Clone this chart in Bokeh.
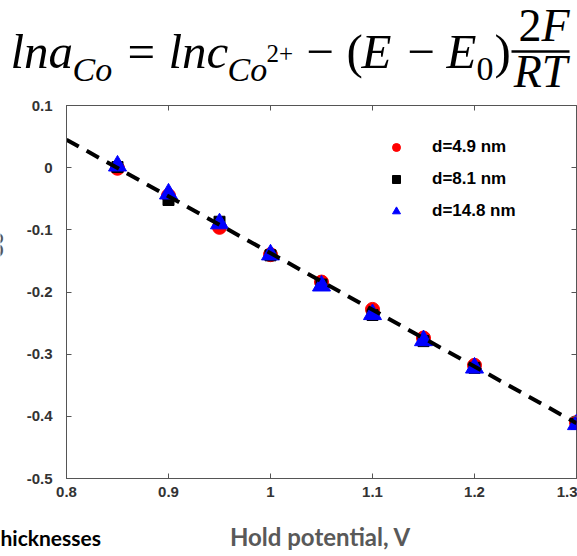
import math

from bokeh.core.properties import value
from bokeh.embed import file_html
from bokeh.layouts import column, row
from bokeh.models import (CustomJSTickFormatter, FixedTicker, Legend, LegendItem,
                          LinearAxis, Range1d)
from bokeh.plotting import figure
from bokeh.resources import INLINE

# Hold potential (V) and ln(a_Co) for the three film thicknesses
potential = [0.85, 0.90, 0.95, 1.00, 1.05, 1.10, 1.15, 1.20, 1.30]
ln_a_d49 = [-0.001, -0.045, -0.096, -0.140, -0.184, -0.228, -0.274, -0.318, -0.410]
ln_a_d81 = [0.001, -0.052, -0.087, -0.141, -0.188, -0.237, -0.279, -0.322, -0.412]
ln_a_d148 = [0.003, -0.042, -0.090, -0.140, -0.190, -0.236, -0.278, -0.322, -0.413]
series_labels = ["d=4.9 nm", "d=8.1 nm", "d=14.8 nm"]

# Nernst-type straight line through the data
fit_potential = [0.80, 1.30]
fit_ln_a = [0.045, -0.411]

x_ticks = [0.8, 0.9, 1.0, 1.1, 1.2, 1.3]
y_ticks = [-0.5, -0.4, -0.3, -0.2, -0.1, 0.0, 0.1]

W = 577
TOP_H, MAIN_H, BOTTOM_H = 97, 413, 46
MAIN_TOP_BORDER = 8
STRIP_W = 8

AXIS_COLOR = "#555555"
TICK_FONT = "Liberation Sans"

# (ascent - descent) / 2 of each face, used to turn a baseline into a middle line
MID_SHIFT = {"Liberation Serif": 0.3375, "Lato": 0.387}


def blank(width, height, flip_y=True):
    """A bare canvas whose data units are pixels (origin top-left when flipped)."""
    f = figure(width=width, height=height, output_backend="svg", toolbar_location=None,
               x_range=Range1d(0, width),
               y_range=Range1d(height, 0) if flip_y else Range1d(0, height),
               x_axis_location=None, y_axis_location=None, min_border=0)
    f.grid.visible = False
    f.outline_line_color = None
    f.background_fill_color = "white"
    f.border_fill_color = "white"
    return f


def run(f, text, x, baseline, size, style="italic", font="Liberation Serif",
        color="black", align="left"):
    """Draw a text run whose alphabetic baseline sits at pixel row `baseline`."""
    f.text(x=[x], y=[baseline - MID_SHIFT[font] * size], text=[text],
           text_font=value(font), text_font_size=value(f"{size}px"),
           text_font_style=style, text_color=color, text_align=align,
           text_baseline="middle")


# ---- equation: ln a_Co = ln c_Co2+ - (E - E0) 2F/RT
top = blank(W, TOP_H)
S, FRAC, SUB, SUP = 49, 46, 34, 25
BASE, SUB_BASE, SUP_BASE = 68, 80, 61
run(top, "lna", 10, BASE, S)
run(top, "Co", 72, SUB_BASE, SUB)
run(top, "=", 127, BASE, S, style="normal")
run(top, "lnc", 168, BASE, S)
run(top, "Co", 227, SUB_BASE, SUB)
run(top, "2+", 266, SUP_BASE, SUP, style="normal")
run(top, "\u2212", 306, BASE, S, style="normal")
run(top, "(", 346, BASE, S, style="normal")
run(top, "E", 361, BASE, S)
run(top, "\u2212", 407, BASE, S, style="normal")
run(top, "E", 446, BASE, S)
run(top, "0", 476, SUB_BASE, SUB, style="normal")
run(top, ")", 494, BASE, S, style="normal")
run(top, "2", 518, 41, FRAC, style="normal")
run(top, "F", 541, 41, FRAC)
run(top, "RT", 540, 87, FRAC, align="center")
top.segment(x0=[511], y0=[51], x1=[569], y1=[51], line_color="black", line_width=2.5)

# ---- main plot
p = figure(width=W - STRIP_W, height=MAIN_H, output_backend="svg", toolbar_location=None,
           x_range=Range1d(0.8, 1.3), y_range=Range1d(-0.5, 0.1),
           min_border_left=58, min_border_right=1, min_border_top=MAIN_TOP_BORDER,
           min_border_bottom=32)
p.grid.visible = False
p.outline_line_color = AXIS_COLOR
p.outline_line_width = 1
p.background_fill_color = "white"
p.border_fill_color = "white"

fmt = CustomJSTickFormatter(code="return tick.toFixed(1).replace(/\\.0$/, '').replace(/^-0$/, '0');")
blank_fmt = CustomJSTickFormatter(code="return '';")

xa = p.xaxis[0]
xa.ticker = FixedTicker(ticks=x_ticks)
ya = p.yaxis[0]
ya.ticker = FixedTicker(ticks=y_ticks)
for ax, standoff in ((xa, 8), (ya, 14)):
    ax.formatter = fmt
    ax.major_tick_in = 5
    ax.major_tick_out = 0
    ax.minor_tick_line_color = None
    ax.axis_line_color = AXIS_COLOR
    ax.major_tick_line_color = AXIS_COLOR
    ax.major_label_text_font = TICK_FONT
    ax.major_label_text_font_style = "bold"
    ax.major_label_text_font_size = "15px"
    ax.major_label_text_color = "#333333"
    ax.major_label_standoff = standoff

# inward ticks on the opposite sides of the box
for side, ticks in (("right", y_ticks), ("above", x_ticks)):
    ax = LinearAxis(ticker=FixedTicker(ticks=ticks), formatter=blank_fmt,
                    major_label_text_font_size="1px", major_label_standoff=0,
                    major_tick_in=5, major_tick_out=0,
                    minor_tick_line_color=None, axis_line_color=None,
                    major_tick_line_color=AXIS_COLOR)
    p.add_layout(ax, side)

r1 = p.scatter(potential, ln_a_d49, marker="circle", size=14, color="red")
r2 = p.scatter(potential, ln_a_d81, marker="square", size=11, color="black")
r3 = p.scatter(potential, ln_a_d148, marker="triangle", size=18, color="blue")
p.line(fit_potential, fit_ln_a, line_color="black", line_width=4, line_dash="14 9")

legend = Legend(items=[LegendItem(label=series_labels[0], renderers=[r1]),
                       LegendItem(label=series_labels[1], renderers=[r2]),
                       LegendItem(label=series_labels[2], renderers=[r3])],
                location=(320, 257), padding=0, margin=0, spacing=12,
                glyph_width=20, glyph_height=20, label_standoff=26,
                label_text_font=TICK_FONT, label_text_font_style="bold",
                label_text_font_size="17px", label_text_color="black",
                border_line_color=None, background_fill_alpha=0)
p.add_layout(legend)

# ---- y-axis title, only its edge reaches the page
side = blank(STRIP_W, MAIN_H, flip_y=False)
side.text(x=[3 - MID_SHIFT["Lato"] * 22], y=[MAIN_H - MAIN_TOP_BORDER - 162], text=["Co"],
          text_font=value("Lato"), text_font_size=value("22px"), text_font_style="bold",
          text_color="#595959", text_align="left", text_baseline="middle",
          angle=math.pi / 2)

# ---- x-axis title row
bottom = blank(W, BOTTOM_H)
run(bottom, "hicknesses", 0, 35, 21, style="bold", font="Lato", color="black")
run(bottom, "Hold potential, V", 320, 35, 24, style="bold", font="Lato",
    color="#595959", align="center")

layout = column(top, row(side, p, spacing=0), bottom, spacing=0)
open("out.html", "w").write(file_html(layout, INLINE))
